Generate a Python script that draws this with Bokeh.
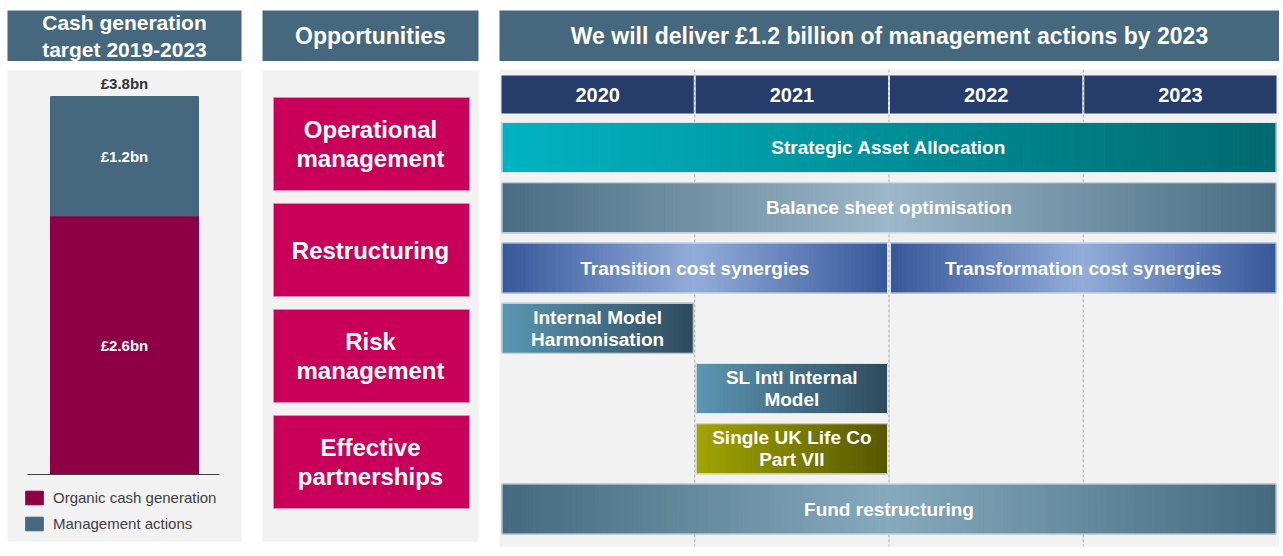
from bokeh.plotting import figure
from bokeh.layouts import row, column
from bokeh.models import ColumnDataSource, Range1d, Span
from bokeh.core.properties import value
from bokeh.embed import file_html
from bokeh.resources import INLINE

# ---------------- data ----------------
panel_titles = ["Cash generation\ntarget 2019-2023", "Opportunities",
                "We will deliver £1.2 billion of management actions by 2023"]

target_period = ["2019-2023"]
organic = [2.6]
management = [1.2]
stack_names = ["Organic cash generation", "Management actions"]

opportunities = ["Operational\nmanagement", "Restructuring", "Risk\nmanagement",
                 "Effective\npartnerships"]

years = [2020, 2021, 2022, 2023]
tasks = ["Strategic Asset Allocation", "Balance sheet optimisation",
         "Transition cost synergies", "Transformation cost synergies",
         "Internal Model\nHarmonisation", "SL Intl Internal\nModel",
         "Single UK Life Co\nPart VII", "Fund restructuring"]
task_start = [2020, 2020, 2020, 2022, 2020, 2021, 2021, 2020]
task_end = [2024, 2024, 2022, 2024, 2021, 2022, 2022, 2024]
task_row = [0, 1, 2, 2, 3, 4, 5, 6]

# ---------------- styles ----------------
FONT = value("Liberation Sans")
SLATE = "#46687E"
ORGANIC = "#8E0046"
PINK = "#C8005A"
NAVY = "#263C6B"
PANEL = "#F2F2F2"

gradients = {
    "Strategic Asset Allocation": [(0, "#00B4C2"), (1, "#006A6F")],
    "Balance sheet optimisation": [(0, "#4A6C82"), (0.5, "#9BB7C8"), (1, "#4A6C82")],
    "Transition cost synergies": [(0, "#36579A"), (0.5, "#93ADD9"), (1, "#36579A")],
    "Transformation cost synergies": [(0, "#36579A"), (0.5, "#93ADD9"), (1, "#36579A")],
    "Internal Model\nHarmonisation": [(0, "#5B96B3"), (1, "#2F4B5E")],
    "SL Intl Internal\nModel": [(0, "#5B96B3"), (1, "#2F4B5E")],
    "Single UK Life Co\nPart VII": [(0, "#A2A500"), (1, "#565700")],
    "Fund restructuring": [(0, "#456A7F"), (0.5, "#86A9BD"), (1, "#456A7F")],
}


def hx(c):
    c = c.lstrip("#")
    return [int(c[i:i + 2], 16) for i in (0, 2, 4)]


def grad_color(stops, t):
    for (p0, c0), (p1, c1) in zip(stops[:-1], stops[1:]):
        if p0 <= t <= p1:
            f = (t - p0) / (p1 - p0)
            a, b = hx(c0), hx(c1)
            return "#%02x%02x%02x" % tuple(int(round(a[i] + (b[i] - a[i]) * f)) for i in range(3))
    return stops[-1][1]


def base_fig(width, height, xr, yr, top, bottom, bg, left=0, right=0):
    p = figure(width=width, height=height, x_range=xr, y_range=yr,
               x_axis_type=None, y_axis_type=None, toolbar_location=None,
               output_backend="svg", title=None,
               min_border_left=left, min_border_right=right,
               min_border_top=top, min_border_bottom=bottom,
               background_fill_color=bg, border_fill_color="white",
               outline_line_color=None)
    return p


def header(text, width, size, left=0, lh=1.14):
    p = base_fig(width, 61, Range1d(0, 1), Range1d(0, 1), 10, 0, SLATE, left=left)
    p.text(x=[0.5], y=[0.5], text=[text], text_color="white", text_font=FONT,
           text_font_style="bold", text_font_size=size, text_align="center",
           text_baseline="middle", text_line_height=lh)
    return p


# ---------------- panel A: stacked bar ----------------
total = [o + m for o, m in zip(organic, management)]
ppu = (471 - 67 - 26) / total[0]
pA = base_fig(242, 487, Range1d(0, 1), Range1d(-67 / ppu, total[0] + 26 / ppu), 9, 7, PANEL,
              left=7, right=1)
srcA = ColumnDataSource(dict(x=[0.5], organic=organic, management=management))
pA.vbar_stack(["organic", "management"], x="x", width=148 / 234, source=srcA,
              color=[ORGANIC, SLATE], legend_label=stack_names)
pA.segment(x0=[20 / 234], x1=[212 / 234], y0=[0], y1=[0], line_color="#404040", line_width=1)
pA.text(x=[0.5, 0.5], y=[organic[0] / 2, organic[0] + management[0] / 2],
        text=["£%.1fbn" % organic[0], "£%.1fbn" % management[0]],
        text_color="white", text_font=FONT, text_font_style="bold", text_font_size="15px",
        text_align="center", text_baseline="middle")
pA.text(x=[0.5], y=[total[0]], text=["£%.1fbn" % total[0]], y_offset=-5,
        text_color="#333333", text_font=FONT, text_font_style="bold", text_font_size="15px",
        text_align="center", text_baseline="bottom")
lg = pA.legend[0]
lg.location = (16, 9)
lg.glyph_width = 22
lg.glyph_height = 17
lg.label_height = 17
lg.label_standoff = 8
lg.spacing = 9
lg.padding = 0
lg.margin = 0
lg.background_fill_alpha = 0
lg.border_line_alpha = 0
lg.label_text_font = "Liberation Sans"
lg.label_text_font_size = "15px"
lg.label_text_color = "#404040"

# ---------------- panel B: opportunities ----------------
ppb = 106
pB = base_fig(217, 487, Range1d(0, 1), Range1d((541 - 143.5) / ppb, (70 - 143.5) / ppb), 9, 7, PANEL,
              right=1)
yb = list(range(len(opportunities)))
pB.hbar(y=yb, left=11 / 216, right=207 / 216, height=93 / ppb, fill_color=PINK,
        line_color="#E58AB3", line_width=1)
pB.text(x=[0.5] * len(yb), y=yb, text=opportunities, text_color="white", text_font=FONT,
        text_font_style="bold", text_font_size="24px", text_align="center",
        text_baseline="middle", text_line_height=1.08)

# ---------------- panel C: timeline ----------------
ppy = 777 / 4
ppr = 60.25
pC = base_fig(780, 487, Range1d(2020 - 1 / ppy, 2020 + 779 / ppy),
              Range1d((546 - 147) / ppr, (69 - 147) / ppr), 8, 2, PANEL)
for yv in years[1:]:
    pC.add_layout(Span(location=yv, dimension="height", line_color="#A8A8A8",
                       line_dash="3 2", line_width=1, level="underlay"))

yr_row = (94 - 147) / ppr
ins = 1 / ppy
pC.quad(left=[y + ins for y in years], right=[y + 1 - ins for y in years],
        top=yr_row - 19 / ppr, bottom=yr_row + 19 / ppr, fill_color=NAVY, line_color=None)
pC.text(x=[y + 0.5 for y in years], y=[yr_row] * len(years), text=[str(y) for y in years],
        text_color="white", text_font=FONT, text_font_style="bold", text_font_size="20px",
        text_align="center", text_baseline="middle")

hh = 25 / ppr
sl = dict(left=[], right=[], top=[], bottom=[], color=[])
ol = dict(left=[], right=[], top=[], bottom=[])
for name, s, e, r in zip(tasks, task_start, task_end, task_row):
    l, rr = s + 1.5 * ins, e - 1.5 * ins
    n = max(24, int((rr - l) * 50))
    stops = gradients[name]
    for i in range(n):
        sl["left"].append(l + (rr - l) * i / n)
        sl["right"].append(l + (rr - l) * (i + 1) / n)
        sl["top"].append(r - hh)
        sl["bottom"].append(r + hh)
        sl["color"].append(grad_color(stops, (i + 0.5) / n))
    ol["left"].append(l)
    ol["right"].append(rr)
    ol["top"].append(r - hh)
    ol["bottom"].append(r + hh)
pC.quad(left="left", right="right", top="top", bottom="bottom", fill_color="color",
        line_color="color", line_width=1, source=ColumnDataSource(sl))
pC.quad(left="left", right="right", top="top", bottom="bottom", fill_alpha=0,
        line_color="#DCE4EA", line_width=1, source=ColumnDataSource(ol))
pC.text(x=[(s + e) / 2 for s, e in zip(task_start, task_end)], y=task_row, text=tasks,
        text_color="white", text_font=FONT, text_font_style="bold", text_font_size="19px",
        text_align="center", text_baseline="middle", text_line_height=1.04)

# ---------------- layout ----------------
hA = header(panel_titles[0], 242, "21px", left=6)
hB = header(panel_titles[1], 217, "23px")
hC = header(panel_titles[2], 780, "23px")

layout = row(column(hA, pA), column(hB, pB), column(hC, pC), spacing=20)

open("out.html", "w").write(file_html(layout, INLINE))
